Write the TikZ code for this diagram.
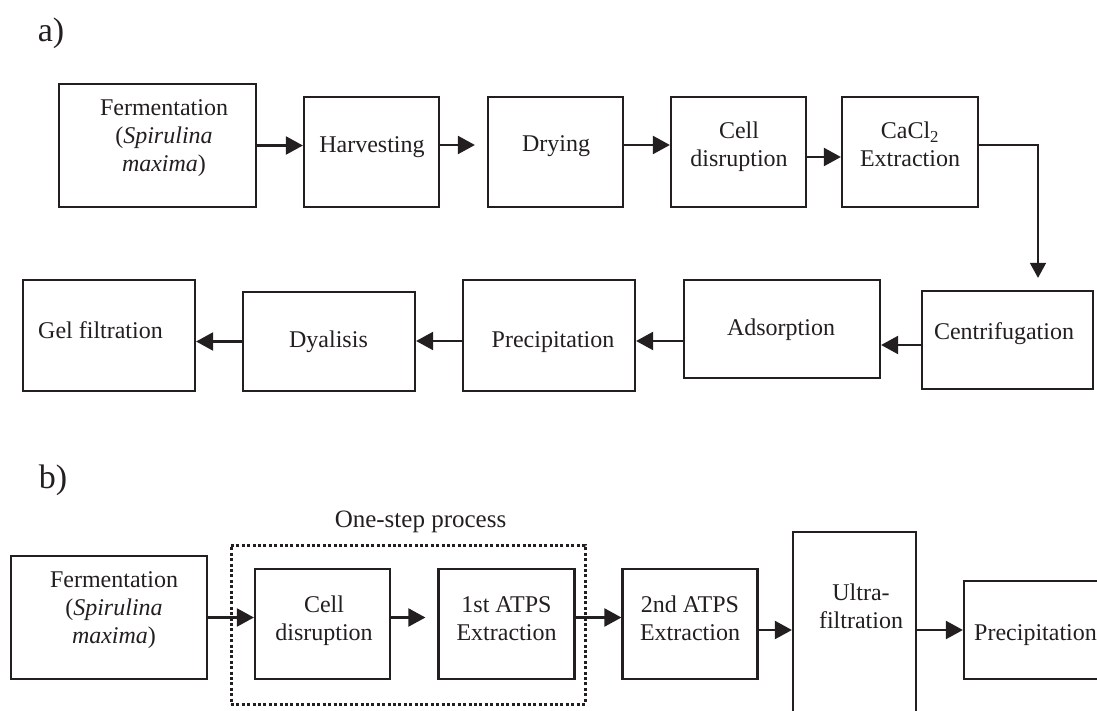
\documentclass[tikz,border=0pt]{standalone}
\usepackage{fontspec}
\setmainfont{Liberation Serif}
\usepackage{tikz}
\usetikzlibrary{arrows.meta}

\definecolor{ink}{RGB}{35,31,32}

\tikzset{
  blk/.style={draw=ink, line width=2.2pt, inner sep=0pt},
  txt/.style={text=ink, inner sep=0pt, anchor=base, align=center, font=\fontsize{24}{28}\selectfont},
  lbl/.style={text=ink, inner sep=0pt, anchor=base, font=\fontsize{34}{40}\selectfont},
  arr/.style={draw=ink, line width=2.2pt, -{Triangle[length=17pt,width=18pt]}},
  onestep/.style={draw=ink, line width=3pt, dash pattern=on 3pt off 2.4pt, inner sep=0pt},
}

\begin{document}
\begin{tikzpicture}[x=1pt, y=-1pt]
  \path[use as bounding box] (0,0) rectangle (1097,711);
  \clip (0,0) rectangle (1097,711);

  % a) first row
  \node[lbl] (la) at (51,42) {a)};
  \node[blk, minimum width=197pt, minimum height=123pt] (fa) at (157.5,145.5) {};
  \node[blk, minimum width=135pt, minimum height=110pt] (ha) at (371.5,152) {};
  \node[blk, minimum width=135pt, minimum height=110pt] (da) at (555.5,152) {};
  \node[blk, minimum width=135pt, minimum height=110pt] (ca) at (738.5,152) {};
  \node[blk, minimum width=136pt, minimum height=110pt] (ka) at (910,152) {};
  \node[txt] (tfa) at (164,172) {Fermentation\\(\textit{Spirulina}\\\textit{maxima})};
  \node[txt] (tha) at (372,153) {Harvesting};
  \node[txt] (tda) at (556,152) {Drying};
  \node[txt] (tca) at (739,167) {Cell\\disruption};
  \node[txt] (tka) at (910,167) {CaCl\textsubscript{2}\\Extraction};

  % a) second row
  \node[blk, minimum width=172pt, minimum height=111pt] (gel) at (109,335.5) {};
  \node[blk, minimum width=172pt, minimum height=99pt] (dy) at (329,341.5) {};
  \node[blk, minimum width=172pt, minimum height=111pt] (pa) at (549,335.5) {};
  \node[blk, minimum width=196pt, minimum height=98pt] (ad) at (782,329) {};
  \node[blk, minimum width=171pt, minimum height=98pt] (ce) at (1007.5,340) {};
  \node[txt] (tgel) at (100.5,338) {Gel filtration};
  \node[txt] (tdy) at (328.5,347) {Dyalisis};
  \node[txt] (tpa) at (553,347) {Precipitation};
  \node[txt] (tad) at (781,335) {Adsorption};
  \node[txt] (tce) at (1004,339) {Centrifugation};

  \draw[arr] (fa.east) -- (fa.east -| ha.west);
  \draw[arr, shorten >=12pt] ([yshift=7pt]ha.east) -- ([yshift=7pt]da.west);
  \draw[arr] ([yshift=7pt]da.east) -- ([yshift=7pt]ca.west);
  \draw[arr] ([yshift=-5pt]ca.east) -- ([yshift=-5pt]ka.west);
  \draw[draw=ink, line width=1.6pt, -{Triangle[length=15pt,width=16pt]}, shorten >=12pt]
    ([yshift=7pt]ka.east) -| ([xshift=30.5pt]ce.north);
  \draw[arr] ([yshift=-5pt]ce.west) -- ([yshift=-5pt]ce.west -| ad.east);
  \draw[arr] ([yshift=-12pt]ad.west) -- ([yshift=-12pt]ad.west -| pa.east);
  \draw[arr] ([yshift=-5.5pt]pa.west) -- ([yshift=-5.5pt]pa.west -| dy.east);
  \draw[arr] (dy.west) -- (dy.west -| gel.east);

  % b)
  \node[lbl] (lb) at (53,488) {b)};
  \node[onestep, minimum width=354pt, minimum height=159pt] (osp) at (408,624.5) {};
  \node[txt, font=\fontsize{25}{30}\selectfont] (tosp) at (420.5,527) {One-step process};
  \node[blk, minimum width=196pt, minimum height=123pt] (fb) at (109,617.5) {};
  \node[blk, minimum width=135pt, minimum height=110pt] (cb) at (322.5,624) {};
  \node[blk, minimum width=136pt, minimum height=110pt] (e1) at (506.5,624) {};
  \node[blk, minimum width=135pt, minimum height=110pt] (e2) at (690,624) {};
  \node[blk, minimum width=123pt, minimum height=228pt] (uf) at (854.5,646) {};
  \node[blk, minimum width=171pt, minimum height=98pt] (pb) at (1049.5,630) {};
  \node[txt] (tfb) at (114,643) {Fermentation\\(\textit{Spirulina}\\\textit{maxima})};
  \node[txt] (tcb) at (324,640) {Cell\\disruption};
  \node[txt] (te1) at (506.5,640) {1st ATPS\\Extraction};
  \node[txt] (te2) at (690,640) {2nd ATPS\\Extraction};
  \node[txt] (tuf) at (861,628) {Ultra-\\filtration};
  \node[txt, anchor=base west] (tpb) at (974,640) {Precipitation};

  \draw[arr] (fb.east) -- (fb.east -| cb.west);
  \draw[arr, shorten >=12pt] ([yshift=6.5pt]cb.east) -- ([yshift=6.5pt]e1.west);
  \draw[arr] ([yshift=6.5pt]e1.east) -- ([yshift=6.5pt]e2.west);
  \draw[arr] ([yshift=-6pt]e2.east) -- ([yshift=-6pt]e2.east -| uf.west);
  \draw[arr] (uf.east |- pb.west) -- (pb.west);
\end{tikzpicture}
\end{document}
